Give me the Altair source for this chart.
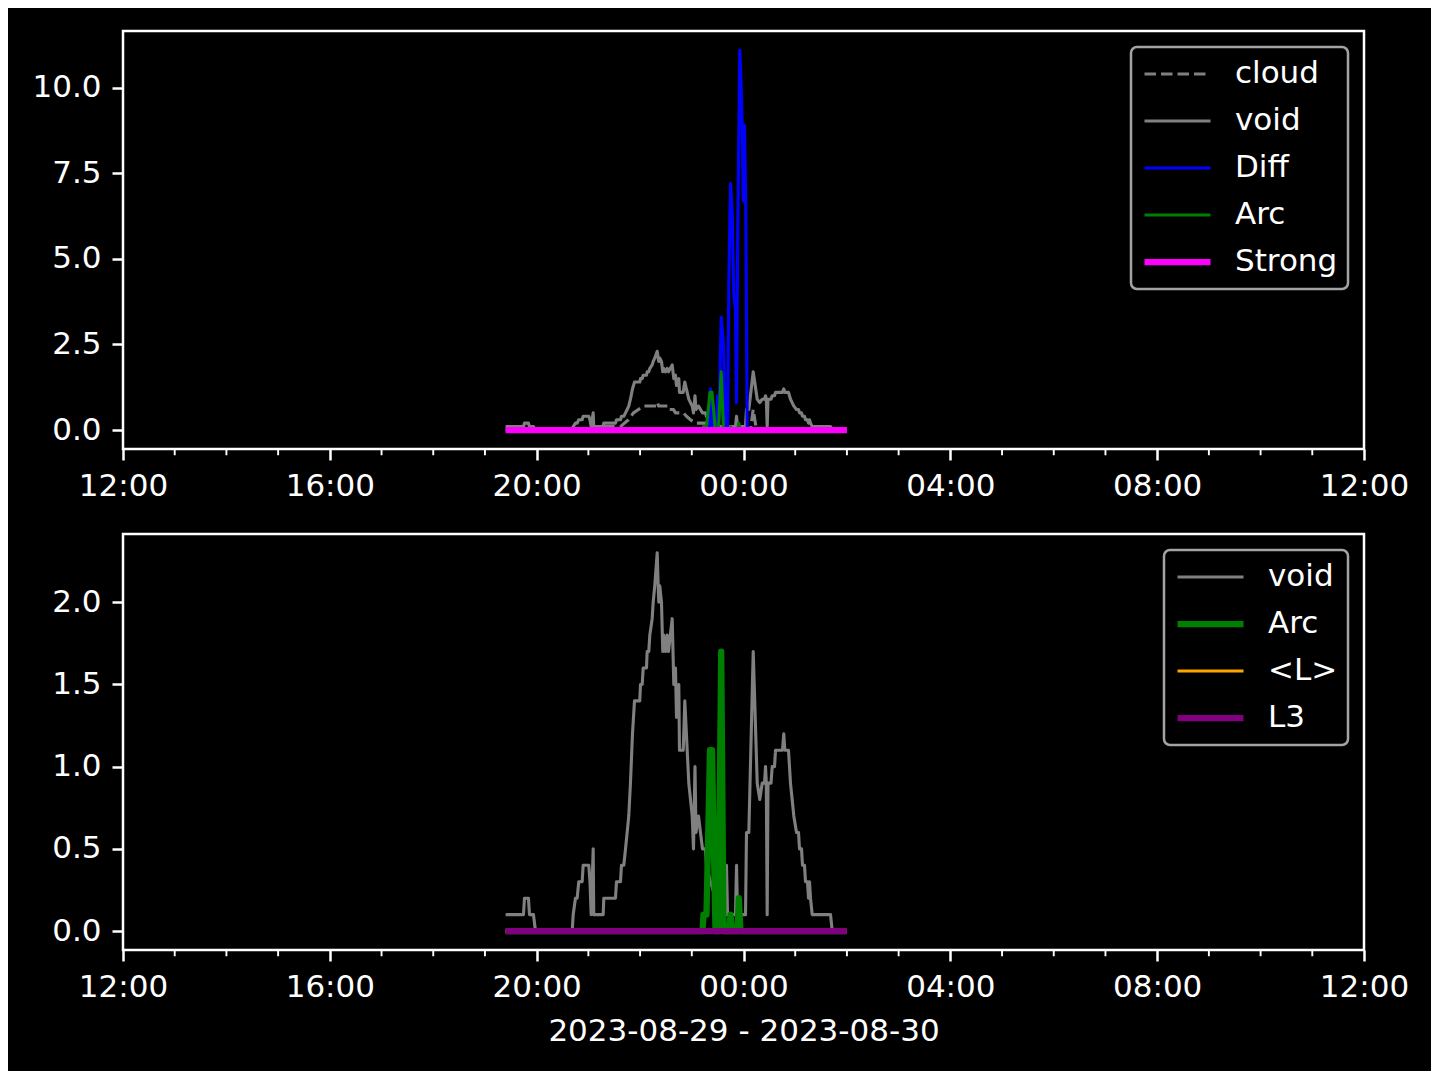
import altair as alt
import pandas as pd

FONT = "DejaVu Sans"
BASE = pd.Timestamp("2023-08-30 00:00:00")  # time values below are hours relative to this instant

# ---- series (hours from 2023-08-30 00:00, value) ----
void_hours = [-4.6, -4.255, -4.236, -4.159, -4.139, -4.062, -4.023, -3.313, -3.294, -3.25,
              -3.217, -3.186, -3.12, -3.101, -2.992, -2.969, -2.946, -2.907, -2.896, -2.714,
              -2.702, -2.476, -2.456, -2.379, -2.36, -2.315, -2.282, -2.25, -2.219, -2.186,
              -2.147, -2.108, -2.006, -1.992, -1.959, -1.94, -1.876, -1.863, -1.832, -1.812,
              -1.766, -1.747, -1.716, -1.669, -1.65, -1.638, -1.619, -1.586, -1.561, -1.542,
              -1.509, -1.476, -1.451, -1.379, -1.348, -1.315, -1.296, -1.251, -1.238, -1.166,
              -1.135, -1.089, -1.058, -1.025, -0.992, -0.967, -0.938, -0.919, -0.87, -0.832,
              -0.793, -0.735, -0.716, -0.638, -0.542, -0.445, -0.348, -0.329, -0.309, -0.155,
              -0.135, -0.116, 0.039, 0.058, 0.103, 0.188, 0.265, 0.315, 0.362, 0.406,
              0.426, 0.441, 0.458, 0.474, 0.532, 0.555, 0.6, 0.619, 0.754, 0.779,
              0.799, 0.87, 0.909, 0.973, 1.025, 1.064, 1.083, 1.122, 1.141, 1.18,
              1.199, 1.238, 1.257, 1.277, 1.296, 1.329, 1.683, 1.716, 2.0]
void_vals = [0.1, 0.1, 0.2, 0.2, 0.1, 0.1, 0.0, 0.0, 0.1, 0.2,
             0.2, 0.3, 0.3, 0.4, 0.4, 0.3, 0.1, 0.5, 0.1, 0.1,
             0.2, 0.2, 0.3, 0.3, 0.4, 0.4, 0.5, 0.6, 0.7, 0.9,
             1.2, 1.4, 1.4, 1.5, 1.5, 1.6, 1.6, 1.7, 1.7, 1.8,
             1.9, 2.0, 2.1, 2.3, 2.1, 2.0, 2.1, 2.0, 1.7, 1.8,
             1.7, 1.8, 1.7, 1.9, 1.5, 1.6, 1.3, 1.5, 1.1, 1.1,
             1.4, 1.1, 0.9, 0.8, 0.7, 0.5, 1.0, 0.6, 0.7, 0.6,
             0.5, 0.5, 0.4, 0.3, 0.2, 0.1, 0.1, 0.4, 0.1, 0.1,
             0.4, 0.1, 0.1, 0.6, 0.6, 1.7, 0.9, 0.8, 0.9, 0.9,
             1.0, 0.9, 0.1, 0.9, 0.9, 1.0, 1.0, 1.1, 1.1, 1.2,
             1.1, 1.1, 0.9, 0.7, 0.6, 0.6, 0.5, 0.5, 0.4, 0.4,
             0.3, 0.3, 0.2, 0.3, 0.2, 0.1, 0.1, 0.0, 0.0]

cloud_hours = [-4.6, -2.766, -2.708, -2.379, -2.302, -2.224, -2.128, -2.031, -1.934, -1.683,
               -1.663, -1.644, -1.47, -1.451, -1.354, -1.315, -1.161, -1.103, -1.025, -0.928,
               -0.696, -0.638, -0.445, -0.406, 0.135, 0.188, 0.251, 2.0]
cloud_vals = [0.0, 0.0, 0.1, 0.1, 0.2, 0.3, 0.5, 0.6, 0.7, 0.7,
              0.8, 0.7, 0.7, 0.6, 0.6, 0.5, 0.5, 0.4, 0.3, 0.2,
              0.2, 0.1, 0.1, 0.0, 0.0, 0.6, 0.0, 0.0]

diff_hours = [-4.6, -0.677, -0.638, -0.605, -0.522, -0.503, -0.474, -0.431, -0.387, -0.348,
              -0.309, -0.284, -0.251, -0.219, -0.188, -0.155, -0.135, -0.11, -0.072, -0.044,
              -0.025, -0.006, 0.019, 0.044, 0.072, 2.0]
diff_vals = [0.0, 0.0, 1.2, 0.0, 0.0, 1.0, 0.3, 3.3, 2.5, 0.0,
             0.0, 4.3, 7.2, 6.4, 4.0, 3.5, 0.8, 6.0, 11.1, 10.0,
             8.9, 6.7, 8.9, 6.5, 0.0, 0.0]

arc_hours = [-4.6, -0.793, -0.774, -0.716, -0.648, -0.609, -0.542, -0.484, -0.431, -0.387,
             -0.28, -0.251, -0.222, -0.116, -0.091, -0.058, 2.0]
arc_vals = [0.0, 0.0, 0.1, 0.1, 1.1, 1.1, 0.0, 0.0, 1.7, 0.0,
            0.0, 0.1, 0.0, 0.0, 0.2, 0.0, 0.0]

flat_hours = [-4.6, 2.0]          # Strong, <L>, L3 stay at zero over the whole record
strong_vals = [0.0, 0.0]
meanL_vals = [0.0, 0.0]
l3_vals = [0.0, 0.0]

# ---- axis tick labels ----
top_yticks = [0.0, 2.5, 5.0, 7.5, 10.0]
bottom_yticks = [0.0, 0.5, 1.0, 1.5, 2.0]
minor_tick_hours = [-11, -10, -9, -7, -6, -5, -3, -2, -1, 1, 2, 3, 5, 6, 7, 9, 10, 11]
x_title = "2023-08-29 - 2023-08-30"

top_names = ["cloud", "void", "Diff", "Arc", "Strong"]
top_colors = ["#808080", "#808080", "#0000ff", "#008000", "#ff00ff"]
top_dashes = [[11.5, 5], [1, 0], [1, 0], [1, 0], [1, 0]]
top_widths = [3.1, 3.1, 3.1, 3.1, 6.25]

bottom_names = ["void", "Arc", "<L>", "L3"]
bottom_colors = ["#808080", "#008000", "#ffa500", "#800080"]
bottom_dashes = [[1, 0], [1, 0], [1, 0], [1, 0]]
bottom_widths = [3.1, 6.25, 3.1, 6.25]


def series_frame(name, hours, values):
    assert len(hours) == len(values)
    t = (BASE + pd.to_timedelta(hours, unit="h")).round("s")
    return pd.DataFrame({"t": t, "v": values, "series": name})


minor_df = pd.DataFrame({"t": BASE + pd.to_timedelta(minor_tick_hours, unit="h")})

x_major = ([alt.DateTime(year=2023, month=8, date=29, hours=h) for h in (12, 16, 20)]
           + [alt.DateTime(year=2023, month=8, date=30, hours=h) for h in (0, 4, 8, 12)])
x_domain = [alt.DateTime(year=2023, month=8, date=29, hours=12),
            alt.DateTime(year=2023, month=8, date=30, hours=12)]

W = 1241


def panel(frames, names, colors, dashes, widths, ydomain, yticks, xtitle, H):
    leg = alt.Legend(title=None)
    color = alt.Color("series:N", scale=alt.Scale(domain=names, range=colors), legend=leg)
    dash = alt.StrokeDash("series:N", scale=alt.Scale(domain=names, range=dashes), legend=leg)
    width = alt.StrokeWidth("series:N", scale=alt.Scale(type="ordinal", domain=names, range=widths),
                            legend=leg)
    x = alt.X("t:T", scale=alt.Scale(domain=x_domain, nice=False),
              axis=alt.Axis(values=x_major, format="%H:%M", labelFlush=False,
                            labelOverlap=False, title=xtitle))
    y = alt.Y("v:Q", scale=alt.Scale(domain=ydomain, nice=False, zero=False),
              axis=alt.Axis(values=yticks, format=".1f", title=None))
    layers = [
        alt.Chart(df).mark_line(strokeJoin="round").encode(
            x=x, y=y, color=color, strokeDash=dash, strokeWidth=width)
        for df in frames
    ]
    minor = alt.Chart(minor_df).mark_rule(color="white", strokeWidth=1.9).encode(
        x=x, y=alt.value(H), y2=alt.value(H + 6.25))
    return alt.layer(*layers, minor).properties(width=W, height=H)


top = panel(
    [series_frame("cloud", cloud_hours, cloud_vals),
     series_frame("void", void_hours, void_vals),
     series_frame("Diff", diff_hours, diff_vals),
     series_frame("Arc", arc_hours, arc_vals),
     series_frame("Strong", flat_hours, strong_vals)],
    top_names, top_colors, top_dashes, top_widths,
    [-0.555, 11.655], top_yticks, None, 418)

bottom = panel(
    [series_frame("void", void_hours, void_vals),
     series_frame("Arc", arc_hours, arc_vals),
     series_frame("<L>", flat_hours, meanL_vals),
     series_frame("L3", flat_hours, l3_vals)],
    bottom_names, bottom_colors, bottom_dashes, bottom_widths,
    [-0.115, 2.415], bottom_yticks, x_title, 416)

chart = alt.vconcat(top, bottom, spacing=85, bounds="flush").resolve_scale(
    y="independent", color="independent", strokeDash="independent", strokeWidth="independent"
).properties(
    background="black",
    padding={"left": 22, "top": 21, "right": 21, "bottom": 23},
).configure_view(
    stroke="white", strokeWidth=2.5
).configure_axis(
    labelFont=FONT, labelFontSize=31, labelColor="white",
    tickColor="white", tickWidth=2.5, tickSize=11, labelPadding=11,
    domain=False, grid=False,
    titleFont=FONT, titleFontSize=31, titleColor="white", titleFontWeight="normal",
    titlePadding=14,
).configure_legend(
    orient="top-right", offset=16, padding=10,
    fillColor="black", strokeColor="#a3a3a3", strokeWidth=2.5, cornerRadius=6,
    labelFont=FONT, labelFontSize=31, labelColor="white",
    symbolType="stroke", symbolSize=4356, rowPadding=13, labelOffset=21, clipHeight=34,
)

chart.save("out.html", embed_options={"renderer": "svg", "actions": False})
